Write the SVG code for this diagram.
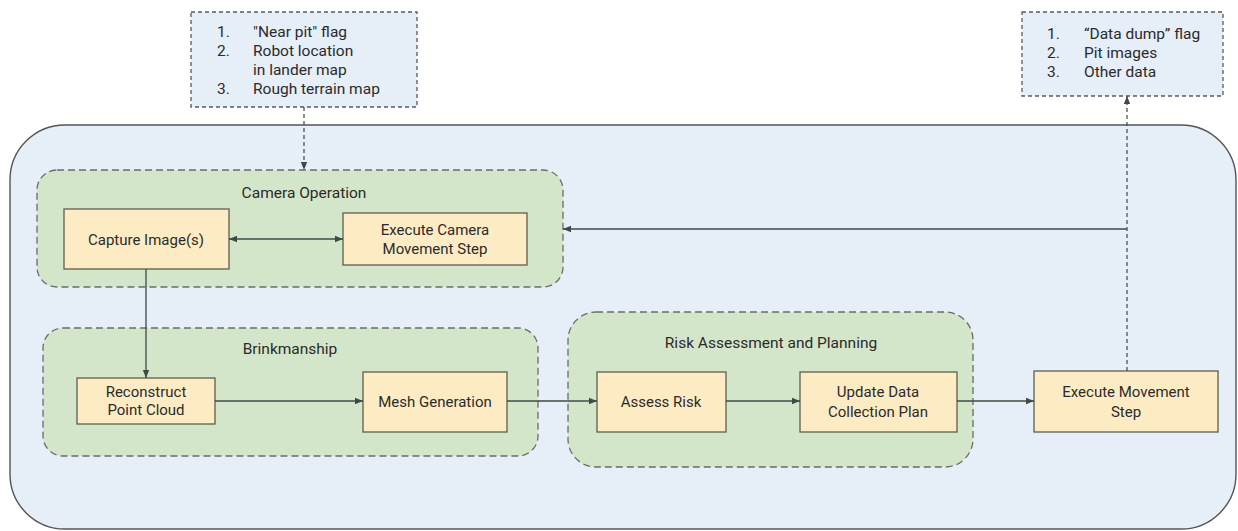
<svg xmlns="http://www.w3.org/2000/svg" width="1238" height="531" viewBox="0 0 1238 531">
<defs>
<style>
text{font-family:Roboto,"Liberation Sans",sans-serif;fill:#2b2b2b;font-size:15px}
.c{text-anchor:middle}
.t{font-size:15.5px}
.note{fill:#e6eef8;stroke:#5a5a5a;stroke-width:1.3;stroke-dasharray:4 3}
.outer{fill:#e6eef8;stroke:#555;stroke-width:1.4}
.grp{fill:#d4e6c9;stroke:#6b6b6b;stroke-width:1.3;stroke-dasharray:7 4}
.box{fill:#fdebc4;stroke:#5f5f4f;stroke-width:1.3}
.ln{fill:none;stroke:#3f4a44;stroke-width:1.3}
.dl{fill:none;stroke:#3f4a44;stroke-width:1.2;stroke-dasharray:4 3}
</style>
<marker id="ah" viewBox="0 0 10 10" refX="10" refY="5" markerWidth="8" markerHeight="8" markerUnits="userSpaceOnUse" orient="auto-start-reverse">
<path d="M0,1 L10,5 L0,9 Z" fill="#3f4a44"/>
</marker>
</defs>
<g id="outer"><rect class="outer" x="10" y="125" width="1226" height="404" rx="55" ry="55"/></g>
<g id="note-in">
<rect class="note" x="191" y="12" width="226" height="95"/>
<text class="t" x="217" y="37">1.</text><text class="t" x="253" y="37">"Near pit" flag</text>
<text class="t" x="217" y="56">2.</text><text class="t" x="253" y="56">Robot location</text>
<text class="t" x="253" y="75">in lander map</text>
<text class="t" x="217" y="94">3.</text><text class="t" x="253" y="94">Rough terrain map</text>
</g>
<g id="note-out">
<rect class="note" x="1022" y="12" width="201" height="84"/>
<text class="t" x="1047" y="39">1.</text><text class="t" x="1084" y="39">“Data dump” flag</text>
<text class="t" x="1047" y="58">2.</text><text class="t" x="1084" y="58">Pit images</text>
<text class="t" x="1047" y="77">3.</text><text class="t" x="1084" y="77">Other data</text>
</g>
<g id="camera-operation">
<rect class="grp" x="37" y="170" width="526" height="117" rx="20" ry="20"/>
<text class="c t" x="304" y="198">Camera Operation</text>
</g>
<g id="brinkmanship">
<rect class="grp" x="43" y="328" width="495" height="128" rx="20" ry="20"/>
<text class="c t" x="290" y="354">Brinkmanship</text>
</g>
<g id="risk">
<rect class="grp" x="568" y="312" width="405" height="155" rx="28" ry="28"/>
<text class="c t" x="771" y="348">Risk Assessment and Planning</text>
</g>
<g id="capture">
<rect class="box" x="64" y="209" width="165" height="60"/>
<text class="c" x="146" y="245">Capture Image(s)</text>
</g>
<g id="exec-camera">
<rect class="box" x="343" y="213" width="184" height="52"/>
<text class="c" x="435" y="235">Execute Camera</text>
<text class="c" x="435" y="254">Movement Step</text>
</g>
<g id="reconstruct">
<rect class="box" x="77" y="378" width="138" height="46"/>
<text class="c" x="146" y="397">Reconstruct</text>
<text class="c" x="146" y="415">Point Cloud</text>
</g>
<g id="mesh">
<rect class="box" x="363" y="372" width="144" height="60"/>
<text class="c" x="435" y="407">Mesh Generation</text>
</g>
<g id="assess">
<rect class="box" x="597" y="372" width="129" height="60"/>
<text class="c" x="661" y="407">Assess Risk</text>
</g>
<g id="update">
<rect class="box" x="800" y="372" width="157" height="60"/>
<text class="c" x="878" y="397">Update Data</text>
<text class="c" x="878" y="417">Collection Plan</text>
</g>
<g id="exec-move">
<rect class="box" x="1034" y="371" width="184" height="61"/>
<text class="c" x="1126" y="397">Execute Movement</text>
<text class="c" x="1126" y="417">Step</text>
</g>
<g id="connectors">
<path class="dl" d="M304,107 V170" marker-end="url(#ah)"/>
<path class="dl" d="M1127,371 V96" marker-end="url(#ah)"/>
<path class="ln" d="M1127,229 H563" marker-end="url(#ah)"/>
<path class="ln" d="M229,239 H343" marker-start="url(#ah)" marker-end="url(#ah)"/>
<path class="ln" d="M146,269 V378" marker-end="url(#ah)"/>
<path class="ln" d="M215,401 H363" marker-end="url(#ah)"/>
<path class="ln" d="M507,401 H597" marker-end="url(#ah)"/>
<path class="ln" d="M726,401 H800" marker-end="url(#ah)"/>
<path class="ln" d="M957,401 H1034" marker-end="url(#ah)"/>
</g>
</svg>
